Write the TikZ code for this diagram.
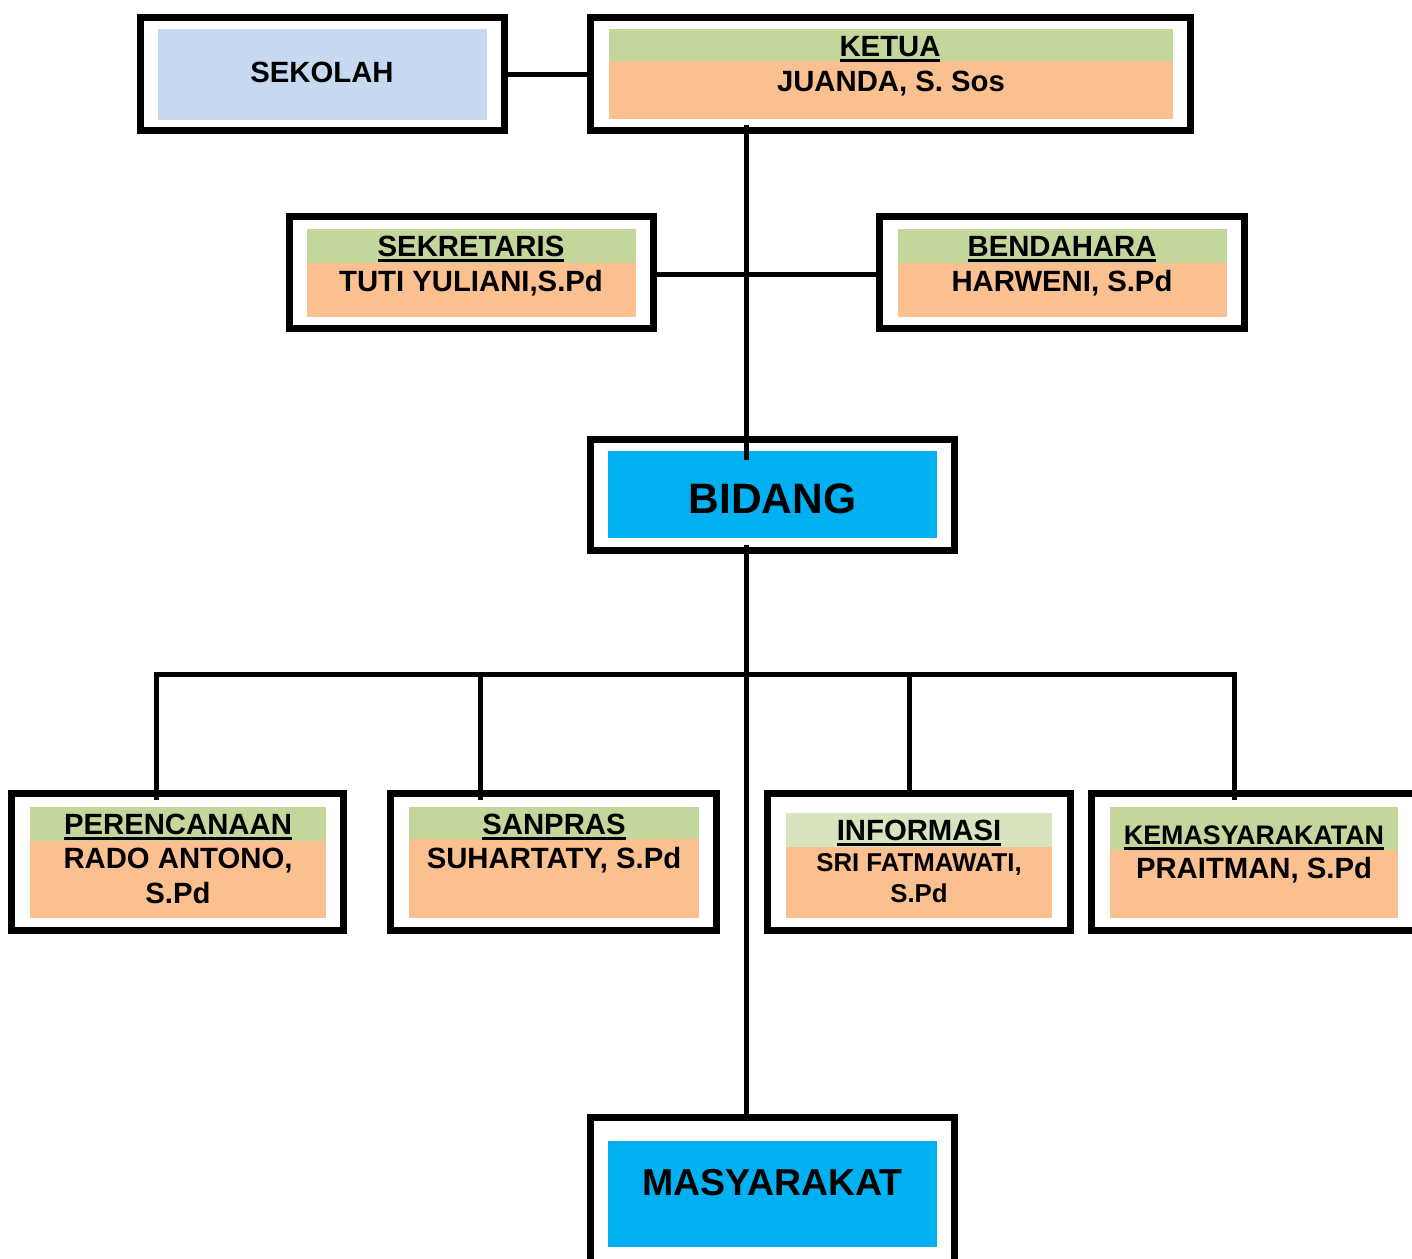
\documentclass[tikz,border=0pt]{standalone}
\usepackage{fontspec}
\setmainfont{Liberation Sans}
\definecolor{hdgreen}{HTML}{C3D69B}
\definecolor{hdgreenlt}{HTML}{D7E4BD}
\definecolor{nmorange}{HTML}{FAC090}
\definecolor{skblue}{HTML}{C6D9F1}
\definecolor{bdcyan}{HTML}{00B0F0}
\newcommand\ulx[1]{\vtop{\hbox{#1}\kern2.5pt\hrule height 3pt}}
\tikzset{
  frm/.style={draw=black, line width=7pt, fill=white, rectangle, inner sep=0pt},
  conn/.style={draw=black, line width=5pt},
  lbl/.style={anchor=base, inner sep=0pt, text=black, font=\bfseries\fontsize{29.3}{33}\selectfont},
  lblsm/.style={lbl, font=\bfseries\fontsize{25.8}{30}\selectfont},
  lblbig/.style={lbl, font=\bfseries\fontsize{42.5}{46}\selectfont},
}
\begin{document}
\begin{tikzpicture}[x=1pt,y=-1pt]
\useasboundingbox (0,0) rectangle (1412,1258);
\clip (0,0) rectangle (1412,1258);
% frames
\node[frm, minimum width=364pt, minimum height=113pt] (sekolah) at (322.5,74) {};
\node[frm, minimum width=600pt, minimum height=113pt] (ketua) at (890.5,74) {};
\node[frm, minimum width=364pt, minimum height=112pt] (sekretaris) at (471.5,272.5) {};
\node[frm, minimum width=365pt, minimum height=112pt] (bendahara) at (1062,272.5) {};
\node[frm, minimum width=364pt, minimum height=111pt] (bidang) at (772.5,495) {};
\node[frm, minimum width=332pt, minimum height=137pt] (perencanaan) at (177.5,862) {};
\node[frm, minimum width=326pt, minimum height=137pt] (sanpras) at (553.5,862) {};
\node[frm, minimum width=303pt, minimum height=137pt] (informasi) at (919,862) {};
\node[frm, minimum width=325pt, minimum height=137pt] (kemasy) at (1254,862) {};
\node[frm, minimum width=364pt, minimum height=150pt] (masyarakat) at (772.5,1192) {};
% fills
\fill[skblue] (158,29) rectangle (487,120);
\fill[hdgreen] (609,29) rectangle (1173,61);
\fill[nmorange] (609,61) rectangle (1173,119);
\fill[hdgreen] (307,229) rectangle (636,263);
\fill[nmorange] (307,263) rectangle (636,317);
\fill[hdgreen] (898,229) rectangle (1227,263);
\fill[nmorange] (898,263) rectangle (1227,317);
\fill[bdcyan] (608,451) rectangle (937,538);
\fill[hdgreen] (30,807) rectangle (326,841);
\fill[nmorange] (30,841) rectangle (326,918);
\fill[hdgreen] (409,807) rectangle (699,839);
\fill[nmorange] (409,839) rectangle (699,918);
\fill[hdgreenlt] (786,813) rectangle (1052,847);
\fill[nmorange] (786,847) rectangle (1052,918);
\fill[hdgreen] (1110,807) rectangle (1398,850);
\fill[nmorange] (1110,850) rectangle (1398,918);
\fill[bdcyan] (608,1141) rectangle (937,1247);
% connectors
\coordinate (kb) at (746,125);
\coordinate (bt) at (746,460);
\coordinate (bb) at (746,545);
\coordinate (bus) at (746,674);
\coordinate (busL) at (156,674);
\coordinate (busR) at (1234,674);
\coordinate (pT) at (156,800);
\coordinate (sT) at (480,800);
\coordinate (iT) at (909,793);
\coordinate (kT) at (1234,800);
\draw[conn] (sekolah.east) -- (ketua.west);
\draw[conn] ([yshift=-1.5pt]sekretaris.east) -- ([yshift=-1.5pt]bendahara.west);
\draw[conn] (kb) -- (bt);
\draw[conn] (bb) -- (masyarakat.north -| bb);
\draw[conn, line cap=rect] (busL) -- (busR);
\draw[conn] (busL) -- (pT);
\draw[conn] (sT |- bus) -- (sT);
\draw[conn] (iT |- bus) -- (iT);
\draw[conn] (busR) -- (kT);
% texts
\node[lbl] (tsekolah) at (322,82) {SEKOLAH};
\node[lbl] (tketua) at (890,56) {\ulx{KETUA}};
\node[lbl] (nketua) at (891,91) {JUANDA, S. Sos};
\node[lbl] (tsekretaris) at (471,256) {\ulx{SEKRETARIS}};
\node[lbl] (nsekretaris) at (471,291) {TUTI YULIANI,S.Pd};
\node[lbl] (tbendahara) at (1062,256) {\ulx{BENDAHARA}};
\node[lbl] (nbendahara) at (1062,291) {HARWENI, S.Pd};
\node[lblbig] (tbidang) at (772.5,513) {BIDANG};
\node[lbl] (tperencanaan) at (178,834) {\ulx{PERENCANAAN}};
\node[lbl] (nperencanaan1) at (178,868) {RADO ANTONO,};
\node[lbl] (nperencanaan2) at (178,903) {S.Pd};
\node[lbl] (tsanpras) at (554,834) {\ulx{SANPRAS}};
\node[lbl] (nsanpras) at (554,868) {SUHARTATY, S.Pd};
\node[lbl] (tinformasi) at (919,840) {\ulx{INFORMASI}};
\node[lblsm] (ninformasi1) at (919,871) {SRI FATMAWATI,};
\node[lblsm] (ninformasi2) at (919,902) {S.Pd};
\node[lbl, font=\bfseries\fontsize{26.8}{30}\selectfont] (tkemasy) at (1254,844) {\ulx{KEMASYARAKATAN}};
\node[lbl] (nkemasy) at (1254,878) {PRAITMAN, S.Pd};
\node[lbl, font=\bfseries\fontsize{37.5}{40}\selectfont] (tmasyarakat) at (772.5,1195) {MASYARAKAT};
\end{tikzpicture}
\end{document}
